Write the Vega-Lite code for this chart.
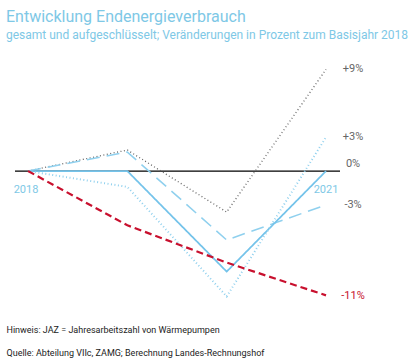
{
  "$schema": "https://vega.github.io/schema/vega-lite/v6.json",
  "width": 418,
  "height": 253,
  "autosize": {"type": "none"},
  "padding": {"top": 55, "left": 0, "right": 0, "bottom": 55},
  "background": "white",
  "config": {"view": {"stroke": null}, "font": "Roboto"},
  "title": {
    "text": "Entwicklung Endenergieverbrauch",
    "subtitle": "gesamt und aufgeschlüsselt; Veränderungen in Prozent zum Basisjahr 2018",
    "anchor": "start",
    "frame": "group",
    "dx": 6,
    "offset": 14,
    "font": "Roboto",
    "fontSize": 16,
    "fontWeight": "normal",
    "color": "#7ec8e6",
    "subtitleFont": "Roboto",
    "subtitleFontSize": 12,
    "subtitleColor": "#7ec8e6",
    "subtitlePadding": 5
  },
  "layer": [
    {
      "data": {"values": [{"x": 2017.869, "x2": 2021.141, "y": 0}]},
      "mark": {"type": "rule", "color": "black", "strokeWidth": 1.3},
      "encoding": {
        "x": {"field": "x", "type": "quantitative", "scale": {"domain": [2017.718, 2021.926], "nice": false, "zero": false},
          "axis": {"domain": false, "ticks": false, "labels": false, "grid": false,
            "title": ["Hinweis: JAZ = Jahresarbeitszahl von Wärmepumpen", "Quelle: Abteilung VIIc, ZAMG; Berechnung Landes-Rechnungshof"],
            "titleAnchor": "start", "titleAlign": "left", "titleFont": "Roboto", "titleFontSize": 9, "titleFontWeight": "normal",
            "titleColor": "#222", "titleLineHeight": 23, "titlePadding": 17, "titleX": 6}},
        "x2": {"field": "x2"},
        "y": {"field": "y", "type": "quantitative", "scale": {"domain": [-12.12, 10.27], "nice": false}, "axis": null}
      }
    },
    {
      "data": {"values": [
        {"series": "gray", "year": 2018, "v": 0}, {"series": "gray", "year": 2019, "v": 1.86}, {"series": "gray", "year": 2020, "v": -3.63}, {"series": "gray", "year": 2021, "v": 9},
        {"series": "dashed", "year": 2018, "v": 0}, {"series": "dashed", "year": 2019, "v": 1.68}, {"series": "dashed", "year": 2020, "v": -6.1}, {"series": "dashed", "year": 2021, "v": -3},
        {"series": "solid", "year": 2018, "v": 0}, {"series": "solid", "year": 2019, "v": 0}, {"series": "solid", "year": 2020, "v": -8.9}, {"series": "solid", "year": 2021, "v": 0},
        {"series": "dotted", "year": 2018, "v": 0}, {"series": "dotted", "year": 2019, "v": -1.4}, {"series": "dotted", "year": 2020, "v": -11.1}, {"series": "dotted", "year": 2021, "v": 3},
        {"series": "red", "year": 2018, "v": 0}, {"series": "red", "year": 2019, "v": -4.8}, {"series": "red", "year": 2020, "v": -8.1}, {"series": "red", "year": 2021, "v": -11}
      ]},
      "mark": {"type": "line", "strokeCap": "butt"},
      "encoding": {
        "x": {"field": "year", "type": "quantitative"},
        "y": {"field": "v", "type": "quantitative"},
        "color": {"field": "series", "type": "nominal", "legend": null,
          "scale": {"domain": ["gray", "dashed", "solid", "dotted", "red"], "range": ["#666666", "#8fd0ee", "#74c3ea", "#8fd0ee", "#c8102e"]}},
        "strokeDash": {"field": "series", "type": "nominal", "legend": null,
          "scale": {"domain": ["gray", "dashed", "solid", "dotted", "red"], "range": [[1, 2.5], [13, 7], [1, 0], [1, 2.5], [7, 4]]}},
        "strokeWidth": {"field": "series", "type": "nominal", "legend": null,
          "scale": {"domain": ["gray", "dashed", "solid", "dotted", "red"], "range": [1.3, 2.2, 3.6, 1.3, 3]}}
      }
    },
    {
      "data": {"values": [
        {"label": "+9%", "v": 9, "c": "gray"},
        {"label": "+3%", "v": 3, "c": "blue"},
        {"label": "0%", "v": 0.6, "c": "blue"},
        {"label": "-3%", "v": -3, "c": "blue"},
        {"label": "-11%", "v": -11.1, "c": "red"}
      ]},
      "mark": {"type": "text", "align": "center", "baseline": "middle", "dx": 27, "fontSize": 11, "font": "Roboto"},
      "encoding": {
        "x": {"datum": 2021, "type": "quantitative"},
        "y": {"field": "v", "type": "quantitative"},
        "text": {"field": "label"},
        "color": {"field": "c", "type": "nominal", "legend": null,
          "scale": {"domain": ["gray", "blue", "red"], "range": ["#777777", "#7ec8e6", "#c8102e"]}}
      }
    },
    {
      "data": {"values": [
        {"label": "2018", "year": 2017.98, "v": -1.65},
        {"label": "2021", "year": 2021, "v": -1.7}
      ]},
      "mark": {"type": "text", "align": "center", "baseline": "middle", "fontSize": 11, "font": "Roboto", "color": "#7ec8e6"},
      "encoding": {
        "x": {"field": "year", "type": "quantitative"},
        "y": {"field": "v", "type": "quantitative"},
        "text": {"field": "label"}
      }
    }
  ]
}
